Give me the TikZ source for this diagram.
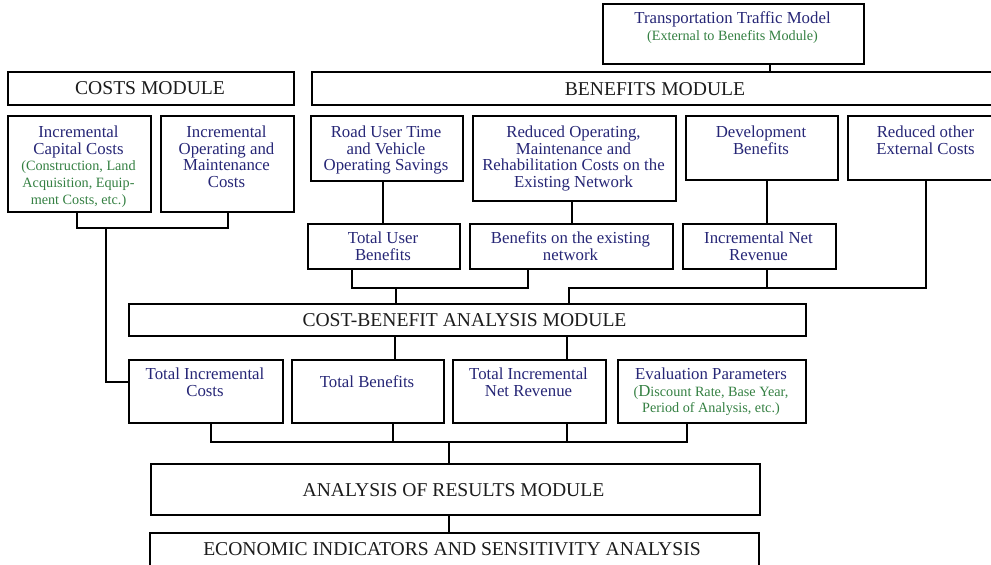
\documentclass[tikz,border=0pt]{standalone}
\usepackage{fontspec}
\setmainfont{Liberation Serif}
\definecolor{tblue}{RGB}{38,38,118}
\definecolor{tgreen}{RGB}{52,128,66}
\definecolor{tgray}{RGB}{28,28,28}
\newcommand\fst{\rule{0pt}{12pt}}
\newcommand\gr{\color{tgreen}\fontsize{14.2}{16.8}\selectfont}
\tikzset{
  box/.style={draw=black, line width=2.1pt, anchor=north west, inner sep=0pt},
  conn/.style={draw=black, line width=2.1pt},
  modtxt/.style={anchor=base, inner sep=0pt, text=tgray, font=\fontsize{19.6}{22}\selectfont},
  btxt/.style={anchor=north, inner sep=0pt, align=center, text=tblue, font=\fontsize{16.8}{16.8}\selectfont},
}
\begin{document}
\begin{tikzpicture}[x=1pt,y=-1pt]
\useasboundingbox (0,0) rectangle (991,565);
% boxes
\node[box, minimum width=261pt, minimum height=60pt] (ttm) at (602,3) {};
\node[box, minimum width=286pt, minimum height=33pt] (costs) at (7,71) {};
\node[box, minimum width=693pt, minimum height=33pt] (ben) at (311,71) {};
\node[box, minimum width=143pt, minimum height=96pt] (cap) at (7,115) {};
\node[box, minimum width=133pt, minimum height=96pt] (om) at (160,115) {};
\node[box, minimum width=152pt, minimum height=65pt] (road) at (310,115) {};
\node[box, minimum width=203pt, minimum height=85pt] (red) at (472,115) {};
\node[box, minimum width=152pt, minimum height=64pt] (dev) at (685,115) {};
\node[box, minimum width=157pt, minimum height=64pt] (ext) at (847,115) {};
\node[box, minimum width=152pt, minimum height=45pt] (tub) at (307,223) {};
\node[box, minimum width=203pt, minimum height=45pt] (bex) at (469,223) {};
\node[box, minimum width=153pt, minimum height=45pt] (inr) at (682,223) {};
\node[box, minimum width=677pt, minimum height=32pt] (cba) at (128,303) {};
\node[box, minimum width=154pt, minimum height=63pt] (tic) at (128,359) {};
\node[box, minimum width=152pt, minimum height=63pt] (tb) at (291,359) {};
\node[box, minimum width=153pt, minimum height=63pt] (tinr) at (452,359) {};
\node[box, minimum width=188pt, minimum height=63pt] (ep) at (617,359) {};
\node[box, minimum width=609pt, minimum height=51pt] (arm) at (150,463) {};
\node[box, minimum width=609pt, minimum height=40pt] (eco) at (149,532) {};
% module texts
\node[modtxt] (costsT) at (150,94.5) {COSTS MODULE};
\node[modtxt] (benT) at (655,95) {BENEFITS MODULE};
\node[modtxt] (cbaT) at (464.5,326.7) {COST-BENEFIT ANALYSIS MODULE};
\node[modtxt] (armT) at (453.5,496.7) {ANALYSIS OF RESULTS MODULE};
\node[modtxt] (ecoT) at (452,555.7) {ECONOMIC INDICATORS AND SENSITIVITY ANALYSIS};
% box texts
\node[btxt] (ttmT) at (732.5,11) {\fst Transportation Traffic Model\\[0.2pt]{\gr (External to Benefits Module)}};
\node[btxt] (capT) at (78.5,125) {\fst Incremental\\Capital Costs\\{\gr (Construction, Land}\\{\gr Acquisition, Equip-}\\{\gr ment Costs, etc.)}};
\node[btxt] (omT) at (226.5,125) {\fst Incremental\\Operating and\\Maintenance\\Costs};
\node[btxt] (roadT) at (386,125) {\fst Road User Time\\and Vehicle\\Operating Savings};
\node[btxt] (redT) at (573.5,125) {\fst Reduced Operating,\\Maintenance and\\Rehabilitation Costs on the\\Existing Network};
\node[btxt] (devT) at (761,125) {\fst Development\\Benefits};
\node[btxt] (extT) at (925.5,125) {\fst Reduced other\\External Costs};
\node[btxt] (tubT) at (383,231) {\fst Total User\\Benefits};
\node[btxt] (bexT) at (570.5,231) {\fst Benefits on the existing\\network};
\node[btxt] (inrT) at (758.5,231) {\fst Incremental Net\\Revenue};
\node[btxt] (ticT) at (205,367) {\fst Total Incremental\\Costs};
\node[btxt] (tbT) at (367,375) {\fst Total Benefits};
\node[btxt] (tinrT) at (528.5,367) {\fst Total Incremental\\Net Revenue};
\node[btxt] (epT) at (711,367) {\fst Evaluation Parameters\\{\gr (\fontsize{16.8}{16.8}\selectfont D\fontsize{14.2}{16.8}\selectfont iscount Rate, Base Year,}\\{\gr Period of Analysis, etc.)}};
% junction coordinates
\coordinate (jcost) at (106,228);
\coordinate (jbl) at (396,288);
\coordinate (jbr) at (569,288);
\coordinate (jinr) at (767,288);
\coordinate (jbot) at (449,442);
\coordinate (jtb) at (393,442);
\coordinate (jtinr) at (567,442);
% connectors
\draw[conn] (ttm.south -| 770,0) -- (ben.north -| 770,0);
\draw[conn] (cap.south -| 77,0) |- (228,228) -- (om.south -| 228,0);
\draw[conn] (jcost) |- (tic.west |- 0,382);
\draw[conn] (road.south -| 383,0) -- (tub.north -| 383,0);
\draw[conn] (red.south -| 572,0) -- (bex.north -| 572,0);
\draw[conn] (dev.south -| 767,0) -- (inr.north -| 767,0);
\draw[conn] (tub.south -| 352,0) |- (528,288) -- (bex.south -| 528,0);
\draw[conn] (jbl) -- (cba.north -| jbl);
\draw[conn] (cba.north -| jbr) -- (jbr) -- (926,288) -- (ext.south -| 926,0);
\draw[conn] (inr.south -| jinr) -- (jinr);
\draw[conn] (cba.south -| 395,0) -- (tb.north -| 395,0);
\draw[conn] (cba.south -| 567,0) -- (tinr.north -| 567,0);
\draw[conn] (tic.south -| 211,0) |- (687,442) -- (ep.south -| 687,0);
\draw[conn] (tb.south -| jtb) -- (jtb);
\draw[conn] (tinr.south -| jtinr) -- (jtinr);
\draw[conn] (jbot) -- (arm.north -| jbot);
\draw[conn] (arm.south -| jbot) -- (eco.north -| jbot);
\end{tikzpicture}
\end{document}
